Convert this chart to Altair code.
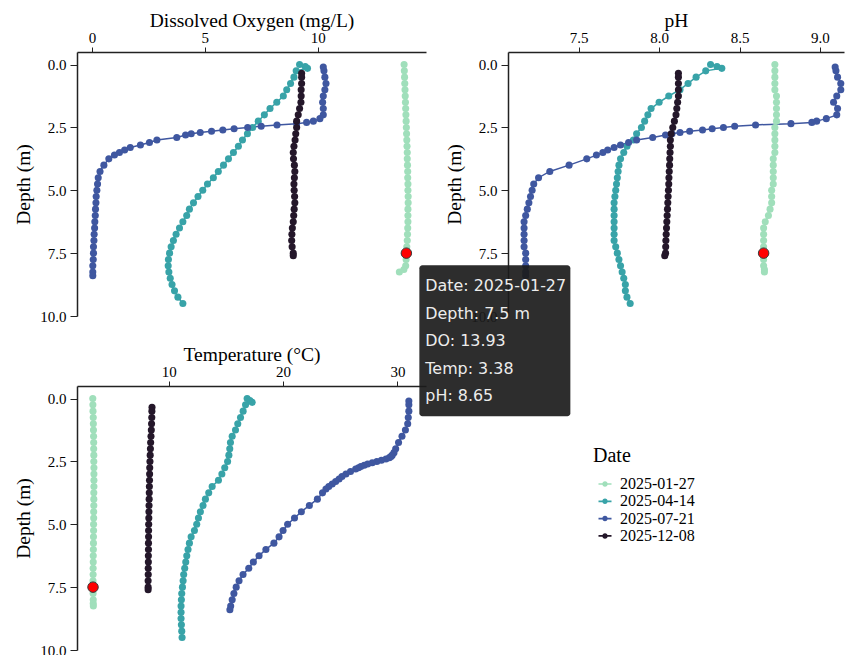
import altair as alt
import pandas as pd

dates = ["2025-01-27", "2025-04-14", "2025-07-21", "2025-12-08"]
colors = ["#a0dfbb", "#38a3a8", "#3f57a0", "#24172a"]

# 2025-01-27
jan_depth = [0, 0.25, 0.5, 0.75, 1.0, 1.25, 1.5, 1.75, 2.0, 2.25, 2.5, 2.75, 3.0, 3.25, 3.5, 3.75, 4.0,
             4.25, 4.5, 4.75, 5.0, 5.25, 5.5, 5.75, 6.0, 6.25, 6.5, 6.75, 7.0, 7.25, 7.5, 7.75, 8.0, 8.15, 8.25]
jan_do = [13.83, 13.84, 13.85, 13.86, 13.87, 13.88, 13.89, 13.9, 13.91, 13.92, 13.93, 13.94, 13.95, 13.96, 13.97,
          13.97, 13.98, 13.99, 13.99, 14.0, 14.0, 14.01, 14.01, 14.0, 14.0, 14.0, 13.99, 13.98, 13.97, 13.95,
          13.93, 13.92, 13.9, 13.82, 13.62]
jan_ph = [8.72, 8.72, 8.72, 8.72, 8.72, 8.73, 8.73, 8.73, 8.73, 8.73, 8.72, 8.72, 8.72, 8.72, 8.72,
          8.71, 8.71, 8.71, 8.71, 8.71, 8.7, 8.7, 8.7, 8.69, 8.68, 8.66, 8.65, 8.65, 8.65, 8.65,
          8.65, 8.65, 8.65, 8.655, 8.655]
jan_temp = [3.36, 3.37, 3.38, 3.4, 3.41, 3.42, 3.43, 3.44, 3.44, 3.45, 3.45, 3.46, 3.46, 3.46, 3.46,
            3.45, 3.45, 3.45, 3.44, 3.44, 3.43, 3.43, 3.42, 3.42, 3.41, 3.4, 3.4, 3.39, 3.39, 3.38,
            3.38, 3.39, 3.4, 3.4, 3.41]

# 2025-04-14
apr_depth = [0, 0.08, 0.15, 0.25, 0.5, 0.75, 1.0, 1.25, 1.5, 1.75, 2.0, 2.25, 2.5, 2.75, 3.0, 3.25, 3.5, 3.75,
             4.0, 4.25, 4.5, 4.75, 5.0, 5.25, 5.5, 5.75, 6.0, 6.25, 6.5, 6.75, 7.0, 7.25, 7.5, 7.75, 8.0, 8.25,
             8.5, 8.75, 9.0, 9.25, 9.5]
apr_do = [9.2, 9.45, 9.55, 9.05, 8.95, 8.8, 8.63, 8.48, 8.19, 7.89, 7.64, 7.37, 7.12, 6.89, 6.67, 6.49, 6.27,
          6.05, 5.83, 5.6, 5.38, 5.12, 4.91, 4.7, 4.5, 4.32, 4.2, 4.03, 3.88, 3.73, 3.61, 3.51, 3.44, 3.39,
          3.38, 3.41, 3.47, 3.55, 3.66, 3.81, 4.03]
apr_ph = [8.32, 8.36, 8.39, 8.29, 8.23, 8.18, 8.13, 8.06, 8.0, 7.95, 7.93, 7.91, 7.89, 7.86, 7.84, 7.8, 7.78,
          7.76, 7.75, 7.745, 7.74, 7.735, 7.73, 7.725, 7.72, 7.72, 7.72, 7.72, 7.72, 7.72, 7.72, 7.73, 7.74,
          7.75, 7.76, 7.77, 7.78, 7.79, 7.79, 7.8, 7.82]
apr_temp = [16.86, 17.1, 17.3, 16.72, 16.51, 16.28, 16.04, 15.84, 15.55, 15.4, 15.34, 15.26, 15.15, 14.9,
            14.65, 14.35, 13.8, 13.5, 13.21, 13.0, 12.77, 12.6, 12.45, 12.25, 11.96, 11.81, 11.69, 11.58,
            11.49, 11.4, 11.31, 11.26, 11.2, 11.14, 11.11, 11.08, 11.08, 11.08, 11.11, 11.14, 11.17]

# 2025-07-21
jul_depth = [0.1, 0.25, 0.5, 0.75, 1.0, 1.25, 1.5, 1.75, 2.0, 2.15, 2.25, 2.3, 2.35, 2.4, 2.45, 2.5, 2.55,
             2.6, 2.65, 2.7, 2.75, 2.8, 2.9, 3.0, 3.1, 3.2, 3.3, 3.4, 3.5, 3.6, 3.75, 4.0, 4.25, 4.5, 4.75,
             5.0, 5.25, 5.5, 5.75, 6.0, 6.25, 6.5, 6.75, 7.0, 7.25, 7.5, 7.75, 8.0, 8.25, 8.4]
jul_do = [10.25, 10.28, 10.32, 10.37, 10.32, 10.25, 10.22, 10.25, 10.25, 10.1, 9.81, 9.51, 9.07, 8.2, 7.5,
          6.9, 6.3, 5.8, 5.3, 4.8, 4.4, 4.15, 3.76, 2.88, 2.55, 2.15, 1.7, 1.45, 1.22, 1.0, 0.75, 0.53, 0.36,
          0.28, 0.25, 0.22, 0.19, 0.18, 0.16, 0.15, 0.13, 0.12, 0.1, 0.09, 0.07, 0.07, 0.06, 0.04, 0.04, 0.04]
jul_ph = [9.095, 9.1, 9.11, 9.13, 9.13, 9.105, 9.085, 9.11, 9.105, 9.04, 8.98, 8.95, 8.82, 8.6, 8.47, 8.4,
          8.33, 8.27, 8.19, 8.13, 8.08, 8.04, 7.96, 7.86, 7.81, 7.76, 7.72, 7.68, 7.65, 7.61, 7.55, 7.44,
          7.32, 7.25, 7.22, 7.21, 7.2, 7.19, 7.18, 7.17, 7.16, 7.16, 7.16, 7.16, 7.16, 7.17, 7.17, 7.17,
          7.17, 7.17]
jul_temp = [31.0, 31.0, 31.0, 30.95, 30.9, 30.7, 30.4, 30.1, 29.85, 29.7, 29.55, 29.45, 29.3, 29.0, 28.6,
            28.2, 27.8, 27.4, 27.1, 26.8, 26.6, 26.35, 25.9, 25.5, 25.15, 24.9, 24.6, 24.3, 24.0, 23.75,
            23.45, 23.0, 22.3, 21.6, 21.0, 20.4, 20.0, 19.65, 19.2, 18.5, 17.9, 17.4, 17.0, 16.5, 16.15,
            15.9, 15.7, 15.55, 15.42, 15.35]

# 2025-12-08
dec_depth = [0.35, 0.5, 0.75, 1.0, 1.25, 1.5, 1.75, 2.0, 2.25, 2.5, 2.75, 3.0, 3.25, 3.5, 3.75, 4.0, 4.25,
             4.5, 4.75, 5.0, 5.25, 5.5, 5.75, 6.0, 6.25, 6.5, 6.75, 7.0, 7.25, 7.5, 7.6]
dec_do = [9.29, 9.29, 9.29, 9.27, 9.27, 9.26, 9.2, 9.14, 9.07, 9.07, 9.03, 9.0, 8.95, 8.92, 8.93, 8.97,
          8.99, 8.97, 8.95, 8.96, 8.98, 8.99, 8.96, 8.94, 8.92, 8.88, 8.86, 8.85, 8.87, 8.92, 8.92]
dec_ph = [8.12, 8.12, 8.12, 8.12, 8.12, 8.115, 8.11, 8.105, 8.095, 8.085, 8.075, 8.07, 8.07, 8.068, 8.066,
          8.065, 8.063, 8.061, 8.06, 8.058, 8.056, 8.054, 8.052, 8.05, 8.048, 8.046, 8.044, 8.042, 8.041,
          8.04, 8.035]
dec_temp = [8.54, 8.53, 8.52, 8.5, 8.48, 8.45, 8.42, 8.4, 8.38, 8.36, 8.34, 8.33, 8.32, 8.31, 8.3, 8.29,
            8.28, 8.27, 8.26, 8.25, 8.24, 8.24, 8.23, 8.23, 8.22, 8.22, 8.21, 8.21, 8.2, 8.2, 8.2]

# hovered record shown in the reference
hover_date = "2025-01-27"
hover_depth = 7.5

# axis extents
do_domain = [-0.66, 14.8]
ph_domain = [7.06, 9.15]
temp_domain = [1.98, 32.5]
depth_domain = [-0.5, 10]

profiles = [
    (dates[0], jan_depth, jan_do, jan_temp, jan_ph),
    (dates[1], apr_depth, apr_do, apr_temp, apr_ph),
    (dates[2], jul_depth, jul_do, jul_temp, jul_ph),
    (dates[3], dec_depth, dec_do, dec_temp, dec_ph),
]
rows = []
seq = 0
for date, dep, do, tmp, ph in profiles:
    for i in range(len(dep)):
        rows.append({"Date": date, "Depth": dep[i], "DO": do[i], "Temp": tmp[i], "pH": ph[i], "Seq": seq})
        seq += 1
df = pd.DataFrame(rows)

hov = df[(df["Date"] == hover_date) & (df["Depth"] == hover_depth)].copy()
rec = hov.iloc[0]
tip_lines = [
    f"Date: {rec['Date']}",
    f"Depth: {rec['Depth']} m",
    f"DO: {rec['DO']:.2f}",
    f"Temp: {rec['Temp']:.2f}",
    f"pH: {rec['pH']:.2f}",
]

SERIF = "Liberation Serif"
H = 264
W_LEFT = 349
W_PH = 336
ROW_GAP = 70
COL_GAP = 82

# The tooltip is drawn in the last panel (so it sits on top of everything) but
# positioned next to the hovered point of the Dissolved Oxygen panel.
def px(v, dom, w):
    return (v - dom[0]) / (dom[1] - dom[0]) * w

shift_x = px(rec["DO"], do_domain, W_LEFT) - px(rec["Temp"], temp_domain, W_LEFT)
shift_y = -(H + ROW_GAP)

# legend symbol: short line with a dot in the middle
LEG_SYMBOL = ("M-1,-0.13 L1,-0.13 L1,0.13 L-1,0.13 Z "
              "M-0.42,0 A0.42,0.42 0 1,1 0.42,0 A0.42,0.42 0 1,1 -0.42,0 Z")

y_enc = alt.Y(
    "Depth:Q",
    scale=alt.Scale(domain=depth_domain, reverse=True, nice=False, zero=False),
    axis=alt.Axis(title="Depth (m)", values=[0, 2.5, 5, 7.5, 10], format=".1f"),
)
color_enc = alt.Color(
    "Date:N",
    scale=alt.Scale(domain=dates, range=colors),
    legend=alt.Legend(title="Date", orient="none", legendX=516, legendY=394,
                      symbolType=LEG_SYMBOL, symbolSize=169, symbolStrokeWidth=0,
                      symbolOffset=4, labelOffset=7, titlePadding=10, rowPadding=1.3),
)


def panel(field, title, domain, ticks, fmt, width, with_tip=False):
    x_enc = alt.X(
        f"{field}:Q",
        scale=alt.Scale(domain=domain, nice=False, zero=False),
        axis=alt.Axis(orient="top", title=title, values=ticks, format=fmt),
    )
    lines = alt.Chart(df).mark_line(
        strokeWidth=1.5,
        point=alt.OverlayMarkDef(filled=True, size=50, opacity=1),
    ).encode(x=x_enc, y=y_enc, color=color_enc, order="Seq:Q")
    hl = alt.Chart(hov).mark_point(
        filled=True, fill="#ff0000", stroke="#3a3a3a", strokeWidth=1, size=110, opacity=1
    ).encode(x=f"{field}:Q", y="Depth:Q")
    layers = [lines, hl]
    if with_tip:
        box = alt.Chart(hov).mark_rect(
            fill="#1b1b1b", fillOpacity=0.92, cornerRadius=3,
            xOffset=shift_x + 13, x2Offset=shift_x + 164,
            yOffset=shift_y + 12, y2Offset=shift_y + 163,
        ).encode(x=f"{field}:Q", x2=f"{field}:Q", y="Depth:Q", y2="Depth:Q")
        txt = alt.Chart(hov).mark_text(
            align="left", baseline="alphabetic", dx=shift_x + 19, dy=shift_y + 38, lineHeight=27.5,
            font="DejaVu Sans", fontSize=15.9, color="#ececec",
        ).encode(x=f"{field}:Q", y="Depth:Q", text=alt.value(tip_lines))
        layers += [box, txt]
    return alt.layer(*layers).properties(width=width, height=H)


do_p = panel("DO", "Dissolved Oxygen (mg/L)", do_domain, [0, 5, 10], "d", W_LEFT)
ph_p = panel("pH", "pH", ph_domain, [7.5, 8.0, 8.5, 9.0], ".1f", W_PH)
t_p = panel("Temp", "Temperature (°C)", temp_domain, [10, 20, 30], "d", W_LEFT, with_tip=True)

chart = alt.concat(
    do_p, ph_p, t_p,
    columns=2,
    spacing=alt.RowColnumber(row=ROW_GAP, column=COL_GAP),
    bounds="flush",
).properties(
    padding={"top": 2, "left": 5, "right": 0, "bottom": 5}
).configure_view(strokeWidth=0).configure_axis(
    labelFont=SERIF, titleFont=SERIF, labelFontSize=15, titleFontSize=19.5,
    titleFontWeight="normal", labelColor="#000", titleColor="#000",
    domainColor="#222", tickColor="#222", domainWidth=1.5, grid=False,
).configure_axisX(titlePadding=0).configure_axisY(titlePadding=6, labelPadding=4, tickSize=7).configure_legend(
    titleFont=SERIF, labelFont=SERIF, titleFontSize=20, labelFontSize=16,
    titleFontWeight="normal", labelColor="#000", titleColor="#000",
)

chart.save("out.html", embed_options={"renderer": "svg", "actions": False})
